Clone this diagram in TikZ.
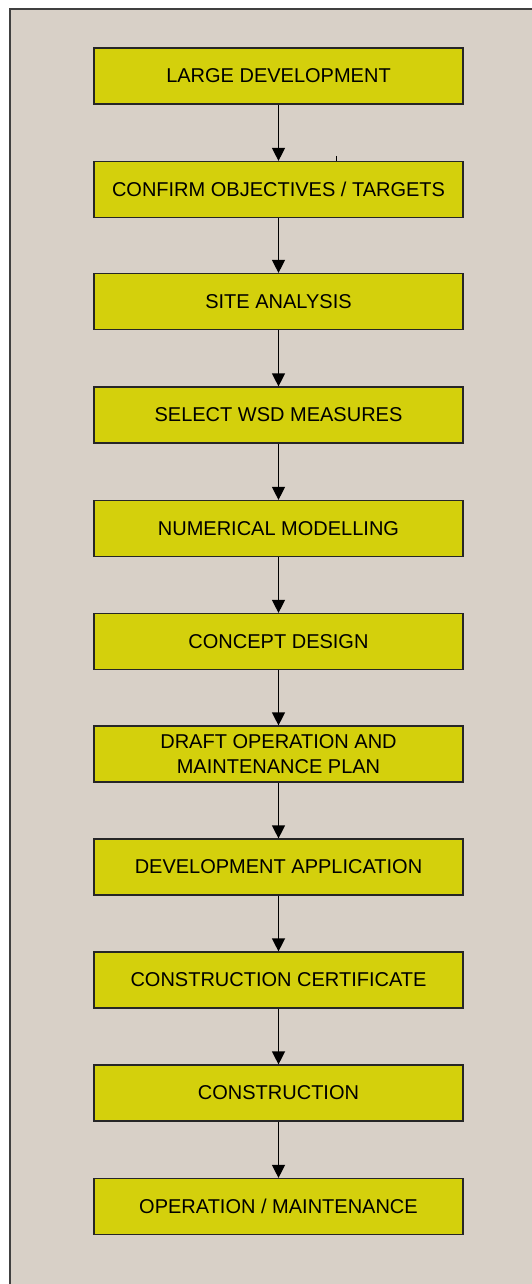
\documentclass[tikz,border=0pt]{standalone}
\usepackage{fontspec}
\setmainfont{Liberation Sans}
\usetikzlibrary{arrows.meta}

\definecolor{panelgrey}{RGB}{216,208,199}
\definecolor{boxyellow}{RGB}{212,208,12}

\tikzset{
  stage/.style={draw=black!85,line width=1.2pt,fill=boxyellow,minimum width=369pt,minimum height=56pt,
    inner sep=0pt,align=center,font=\fontsize{20}{24.5}\selectfont},
  flow/.style={line width=1.3pt,-{Triangle[length=13pt,width=13pt]}}
}

\begin{document}
\begin{tikzpicture}[x=1pt,y=-1pt]
\newcommand{\bx}{278.5}
\useasboundingbox (0,0) rectangle (531,1284);
\fill [white] (0,0) rectangle (531,1284);
\draw [line width=2pt,draw=black!75,fill=panelgrey] (10,9) rectangle (545,1300);

\node [stage] (large) at (\bx,76) {LARGE DEVELOPMENT};
\node [stage] (confirm) at (\bx,189.5) {CONFIRM OBJECTIVES / TARGETS};
\node [stage] (site) at (\bx,301.5) {SITE ANALYSIS};
\node [stage] (wsd) at (\bx,415) {SELECT WSD MEASURES};
\node [stage] (model) at (\bx,528.5) {NUMERICAL MODELLING};
\node [stage] (concept) at (\bx,641.5) {CONCEPT DESIGN};
\node [stage] (draft) at (\bx,754) {DRAFT OPERATION AND\\MAINTENANCE PLAN};
\node [stage] (devapp) at (\bx,867) {DEVELOPMENT APPLICATION};
\node [stage] (cert) at (\bx,980) {CONSTRUCTION CERTIFICATE};
\node [stage] (constr) at (\bx,1093) {CONSTRUCTION};
\node [stage] (operate) at (\bx,1206.5) {OPERATION / MAINTENANCE};

\draw [flow] (large) -- (confirm);
\draw [flow] (confirm) -- (site);
\draw [flow] (site) -- (wsd);
\draw [flow] (wsd) -- (model);
\draw [flow] (model) -- (concept);
\draw [flow] (concept) -- (draft);
\draw [flow] (draft) -- (devapp);
\draw [flow] (devapp) -- (cert);
\draw [flow] (cert) -- (constr);
\draw [flow] (constr) -- (operate);

% stray mark above second box
\draw [semithick] (336,156)--(336,161);
\end{tikzpicture}
\end{document}
